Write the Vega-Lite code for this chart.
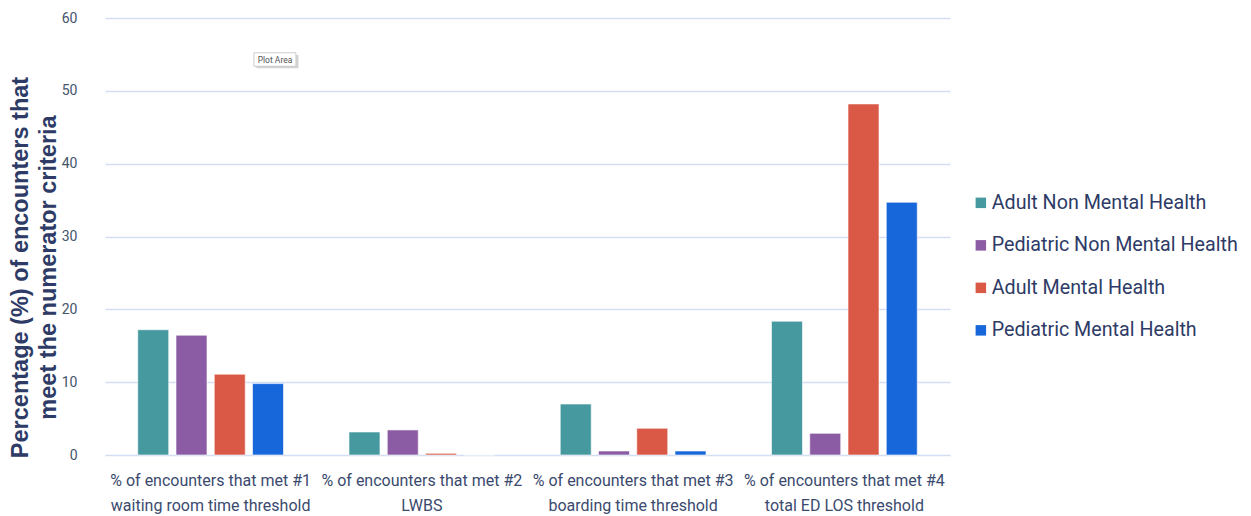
{
  "$schema": "https://vega.github.io/schema/vega-lite/v6.json",
  "width": 845,
  "height": 437,
  "autosize": {"type": "none"},
  "padding": {"left": 105, "top": 18, "right": 301, "bottom": 61},
  "background": "white",
  "config": {"view": {"stroke": null}},
  "datasets": {
    "bars": [
      {"measure": "% of encounters that met #1|waiting room time threshold", "group": "Adult Non Mental Health", "value": 17.2},
      {"measure": "% of encounters that met #1|waiting room time threshold", "group": "Pediatric Non Mental Health", "value": 16.45},
      {"measure": "% of encounters that met #1|waiting room time threshold", "group": "Adult Mental Health", "value": 11.1},
      {"measure": "% of encounters that met #1|waiting room time threshold", "group": "Pediatric Mental Health", "value": 9.8},
      {"measure": "% of encounters that met #2|LWBS", "group": "Adult Non Mental Health", "value": 3.16},
      {"measure": "% of encounters that met #2|LWBS", "group": "Pediatric Non Mental Health", "value": 3.44},
      {"measure": "% of encounters that met #2|LWBS", "group": "Adult Mental Health", "value": 0.23},
      {"measure": "% of encounters that met #2|LWBS", "group": "Pediatric Mental Health", "value": 0},
      {"measure": "% of encounters that met #3|boarding time threshold", "group": "Adult Non Mental Health", "value": 7.0},
      {"measure": "% of encounters that met #3|boarding time threshold", "group": "Pediatric Non Mental Health", "value": 0.55},
      {"measure": "% of encounters that met #3|boarding time threshold", "group": "Adult Mental Health", "value": 3.67},
      {"measure": "% of encounters that met #3|boarding time threshold", "group": "Pediatric Mental Health", "value": 0.55},
      {"measure": "% of encounters that met #4|total ED LOS threshold", "group": "Adult Non Mental Health", "value": 18.37},
      {"measure": "% of encounters that met #4|total ED LOS threshold", "group": "Pediatric Non Mental Health", "value": 2.98},
      {"measure": "% of encounters that met #4|total ED LOS threshold", "group": "Adult Mental Health", "value": 48.2},
      {"measure": "% of encounters that met #4|total ED LOS threshold", "group": "Pediatric Mental Health", "value": 34.7}
    ],
    "note": [
      {"measure": "% of encounters that met #1|waiting room time threshold", "group": "Pediatric Mental Health", "value": 54.3, "label": "Plot Area"}
    ]
  },
  "layer": [
    {
      "data": {"name": "bars"},
      "mark": {"type": "bar", "stroke": "white", "strokeWidth": 1, "strokeOpacity": 0.6},
      "encoding": {
        "x": {
          "field": "measure", "type": "nominal", "sort": null,
          "scale": {"paddingInner": 0.31, "paddingOuter": 0.155},
          "axis": {
            "title": null, "domain": false, "ticks": false,
            "labelExpr": "split(datum.label, '|')",
            "labelAngle": 0, "labelFont": "Roboto", "labelFontSize": 16,
            "labelColor": "#3A4A6E", "labelLineHeight": 25, "labelPadding": 17,
            "labelBaseline": "top", "labelLimit": 0
          }
        },
        "xOffset": {
          "field": "group", "type": "nominal", "sort": null,
          "scale": {
            "domain": ["Adult Non Mental Health", "Pediatric Non Mental Health", "Adult Mental Health", "Pediatric Mental Health"],
            "paddingInner": 0.19, "paddingOuter": 0
          }
        },
        "y": {
          "field": "value", "type": "quantitative",
          "scale": {"domain": [0, 60], "nice": false},
          "axis": {
            "values": [0, 10, 20, 30, 40, 50, 60],
            "title": ["Percentage (%) of encounters that", "meet the numerator criteria"],
            "titleFont": "Liberation Sans", "titleFontWeight": "bold", "titleFontSize": 23.5,
            "titleColor": "#2E3B66", "titleLineHeight": 28,
            "titleAngle": -90, "titleAlign": "center", "titleBaseline": "top",
            "titleX": -97, "titleY": 249,
            "domain": false, "ticks": false,
            "labelFont": "Roboto", "labelFontSize": 14, "labelColor": "#44546A",
            "labelPadding": 28,
            "grid": true, "gridColor": "#D3DEF2", "gridWidth": 1.5
          }
        },
        "color": {
          "field": "group", "type": "nominal", "sort": null,
          "scale": {
            "domain": ["Adult Non Mental Health", "Pediatric Non Mental Health", "Adult Mental Health", "Pediatric Mental Health"],
            "range": ["#46999F", "#8B5BA3", "#DA5846", "#1767DB"]
          },
          "legend": {
            "title": null, "orient": "none", "legendX": 866, "legendY": 175,
            "symbolType": "square", "symbolSize": 110, "symbolStrokeWidth": 0,
            "labelFont": "Roboto", "labelFontSize": 19.7, "labelColor": "#2E3B66",
            "rowPadding": 21.5, "labelOffset": 1, "labelLimit": 400
          }
        }
      }
    },
    {
      "data": {"name": "note"},
      "mark": {"type": "point", "shape": "M-0.55,-0.22L1.45,-0.22L1.45,0.42L-0.55,0.42Z", "size": 1764, "filled": true, "fill": "#C8C8C8", "strokeWidth": 0, "opacity": 0.8},
      "encoding": {
        "x": {"field": "measure", "type": "nominal", "sort": null},
        "xOffset": {"field": "group", "type": "nominal", "sort": null},
        "y": {"field": "value", "type": "quantitative"}
      }
    },
    {
      "data": {"name": "note"},
      "mark": {"type": "point", "shape": "M-0.67,-0.32L1.33,-0.32L1.33,0.32L-0.67,0.32Z", "size": 1764, "filled": true, "fill": "white", "stroke": "#CCCCCC", "strokeWidth": 1, "opacity": 1},
      "encoding": {
        "x": {"field": "measure", "type": "nominal", "sort": null},
        "xOffset": {"field": "group", "type": "nominal", "sort": null},
        "y": {"field": "value", "type": "quantitative"}
      }
    },
    {
      "data": {"name": "note"},
      "mark": {"type": "text", "font": "Roboto", "fontSize": 8.5, "color": "#555555", "dx": 7},
      "encoding": {
        "x": {"field": "measure", "type": "nominal", "sort": null},
        "xOffset": {"field": "group", "type": "nominal", "sort": null},
        "y": {"field": "value", "type": "quantitative"},
        "text": {"field": "label"}
      }
    }
  ]
}
